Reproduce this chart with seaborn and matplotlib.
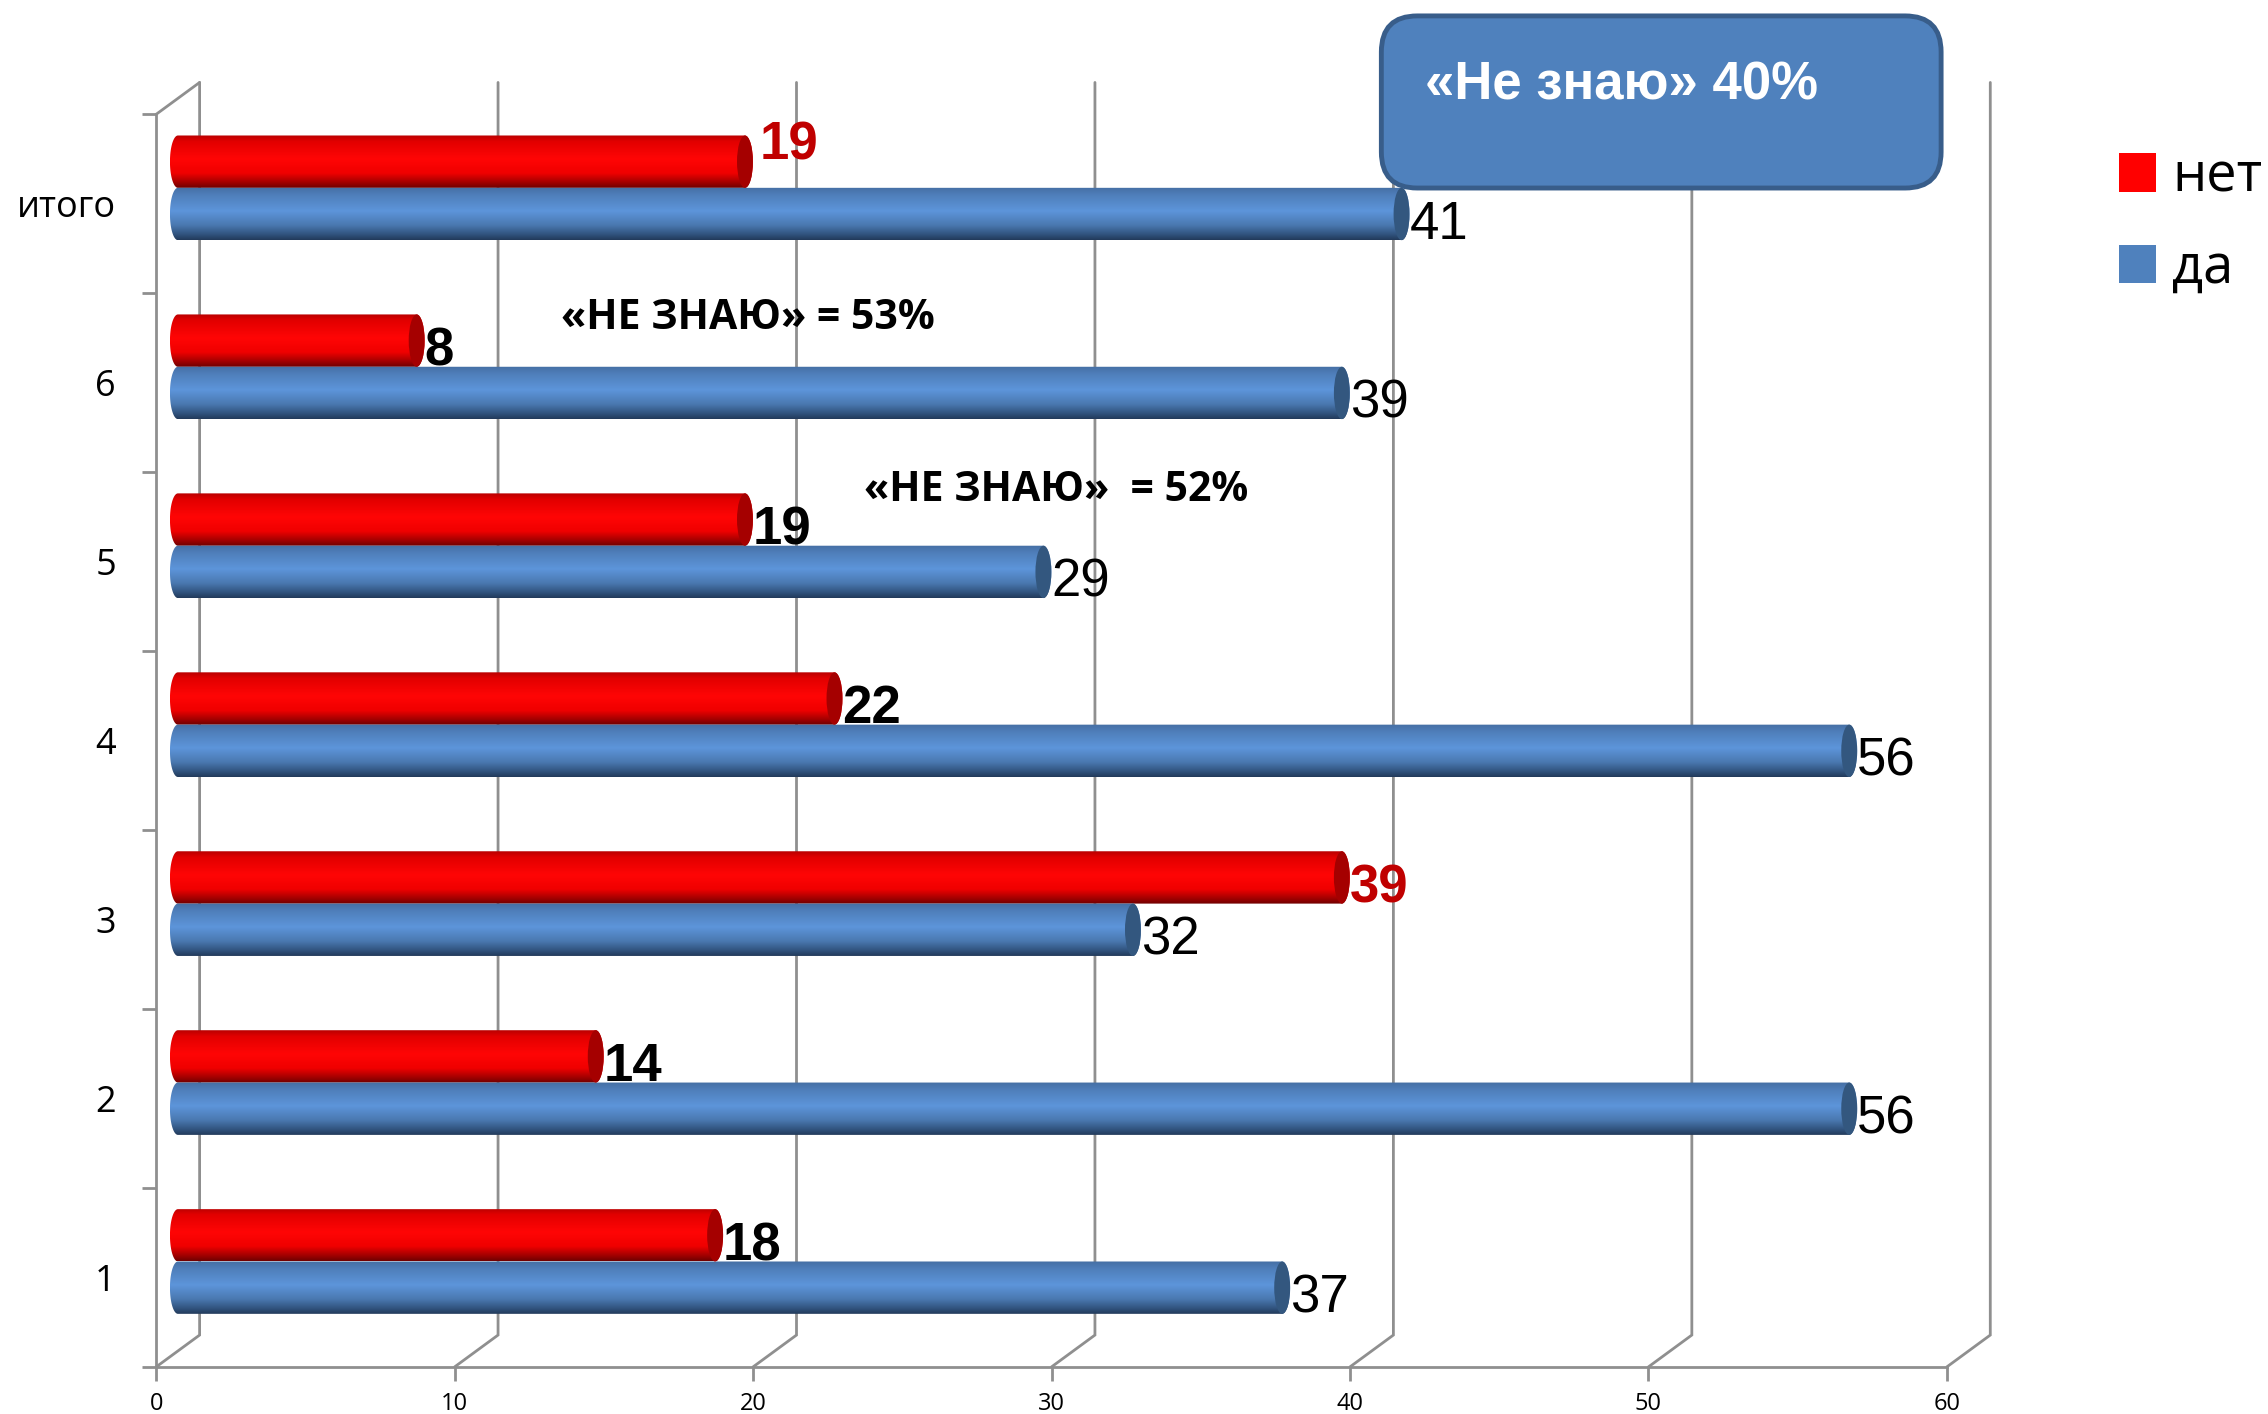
import numpy as np
import pandas as pd
import matplotlib
matplotlib.use("Agg")
import matplotlib.pyplot as plt
import seaborn as sns
from matplotlib.colors import LinearSegmentedColormap
from matplotlib.patches import Ellipse, FancyBboxPatch, PathPatch, Patch
from matplotlib.path import Path
from matplotlib.transforms import IdentityTransform

# data
categories = ["итого", "6", "5", "4", "3", "2", "1"]
net_values = [19, 8, 19, 22, 39, 14, 18]
da_values = [41, 39, 29, 56, 32, 56, 37]
x_ticks = [0, 10, 20, 30, 40, 50, 60]
series_names = ["нет", "да"]

W, H = 2268, 1414
SCALE = W / 1568  # my measurements were taken on the 1568 wide view
UNIT = 1238 / 60  # view pixels per value unit


def fx(x):
    return x * SCALE / W


def fy(y):
    return 1 - y * SCALE / H


df = pd.DataFrame({
    "cat": categories * 2,
    "value": net_values + da_values,
    "series": [series_names[0]] * 7 + [series_names[1]] * 7,
})

sns.set_style("white")
plt.rcParams["font.family"] = ["Open Sans", "DejaVu Sans"]
plt.rcParams["text.color"] = "black"
plt.rcParams["xtick.color"] = "black"
plt.rcParams["ytick.color"] = "black"

fig = plt.figure(figsize=(W / 100, H / 100), dpi=100)

# front plane: axis lines, ticks and labels
GRAY = "#8f8f8f"
front = fig.add_axes([fx(108), fy(945), fx(1346) - fx(108), fy(79) - fy(945)])
front.set_xlim(0, 60)
front.set_ylim(0, 7)
front.patch.set_alpha(0)
for side in ["top", "right"]:
    front.spines[side].set_visible(False)
for side in ["left", "bottom"]:
    front.spines[side].set_color(GRAY)
    front.spines[side].set_linewidth(2)
front.set_xticks(x_ticks)
front.set_yticks(range(8))
front.set_yticklabels([])
front.set_yticks(np.arange(7) + 0.5, categories[::-1], minor=True)
front.tick_params(axis="x", which="major", length=10, width=2, color=GRAY,
                  labelsize=17, pad=8, bottom=True)
front.tick_params(axis="y", which="major", length=10, width=2, color=GRAY, left=True)
front.tick_params(axis="y", which="minor", length=0, labelsize=26, pad=29)

# depth of the box, in axis units
dx = 30 / UNIT
dy = 22 / (866 / 7)
for v in x_ticks:
    front.plot([v, v + dx, v + dx], [0, dy, 7 + dy], color=GRAY, lw=2,
               clip_on=False, solid_joinstyle="miter")
front.plot([0, dx], [7, 7 + dy], color=GRAY, lw=2, clip_on=False)

# bars sit halfway through the depth, one extra unit on the left for the round end
XMIN = -1
ax = fig.add_axes([fx(123 + XMIN * UNIT), fy(934), fx(1361) - fx(123 + XMIN * UNIT),
                   fy(68) - fy(934)], zorder=2)
sns.barplot(data=df, y="cat", x="value", hue="series", order=categories,
            hue_order=series_names, palette=["#ff0000", "#4f81bd"],
            width=0.585, dodge=True, legend=False, ax=ax)
ylim = ax.get_ylim()
ax.axis("off")

ramps = {
    0: LinearSegmentedColormap.from_list(
        "red", [(0, "#b80000"), (0.12, "#e20000"), (0.45, "#ff0505"),
                (0.72, "#f00000"), (0.9, "#a00000"), (1, "#6e0000")]),
    1: LinearSegmentedColormap.from_list(
        "blue", [(0, "#456fa3"), (0.15, "#4f7fbb"), (0.45, "#5d95da"),
                 (0.72, "#4a78b0"), (0.9, "#30527c"), (1, "#223a5a")]),
}
cap_colors = {0: "#a50000", 1: "#33577f"}
r = 5.5 / UNIT
grad = np.linspace(0, 1, 256).reshape(-1, 1)
t = np.linspace(-np.pi / 2, np.pi / 2, 40)

# shade the seaborn bars like cylinders
for s, container in enumerate(ax.containers):
    for bar in container:
        x0, y0 = bar.get_x(), bar.get_y()
        w, h = bar.get_width(), bar.get_height()
        ym = y0 + h / 2
        right = np.column_stack([x0 + w + r * np.cos(t), ym + h / 2 * np.sin(t)])
        left = np.column_stack([x0 - r * np.cos(t[::-1]), ym + h / 2 * np.sin(t[::-1])])
        outline = np.vstack([right, left, right[:1]])
        shape = PathPatch(Path(outline), transform=ax.transData, fc="none", ec="none")
        ax.add_patch(shape)
        bar.set_visible(False)
        im = ax.imshow(grad, cmap=ramps[s], aspect="auto", zorder=3,
                       extent=[x0 - r, x0 + w + r, y0 + h, y0],
                       interpolation="bilinear")
        im.set_clip_path(shape)
        ax.add_patch(Ellipse((x0 + w, ym), 2 * r, h, fc=cap_colors[s], ec="none", zorder=4))
ax.set_xlim(XMIN, 60)
ax.set_ylim(ylim)

# value labels
for i, (bar, v) in enumerate(zip(ax.containers[0], net_values)):
    color = "#c00000" if i in (0, 4) else "black"
    lift = 11 if i == 0 else -7.5
    x_off = 5 if i == 0 else 0
    ax.annotate(str(v), (v + r, bar.get_y() + bar.get_height() / 2),
                xytext=(x_off, lift * SCALE * 0.72), textcoords="offset points",
                family=["Liberation Sans"], fontweight="bold", fontsize=38, color=color,
                va="center", ha="left", zorder=5, annotation_clip=False)
for bar, v in zip(ax.containers[1], da_values):
    ax.annotate(str(v), (v + r, bar.get_y() + bar.get_height() / 2),
                xytext=(0, -7.5 * SCALE * 0.72), textcoords="offset points",
                family=["Liberation Sans"], fontsize=38, color="black",
                va="center", ha="left", zorder=5, annotation_clip=False)

# notes
fig.text(fx(388), fy(220), "«НЕ ЗНАЮ» = 53%", fontweight="bold", fontsize=29.5,
         va="center", ha="left", zorder=6)
fig.text(fx(597), fy(339), "«НЕ ЗНАЮ»  = 52%", fontweight="bold", fontsize=29.5,
         va="center", ha="left", zorder=6)

box = FancyBboxPatch((955 * SCALE + 30, H - 130 * SCALE + 30),
                     387 * SCALE - 60, 119 * SCALE - 60,
                     boxstyle="round,pad=30,rounding_size=36", fc="#4f81bd", ec="#385d8a",
                     lw=3.5, transform=IdentityTransform(), zorder=6)
fig.add_artist(box)
fig.text(fx(985), fy(59), "«Не знаю» 40%", family=["Liberation Sans"], fontweight="bold",
         fontsize=38, color="white", va="center", ha="left", zorder=7)

# legend
handles = [Patch(fc="#ff0000", ec="none", label=series_names[0]),
           Patch(fc="#4f81bd", ec="none", label=series_names[1])]
fig.legend(handles=handles, loc="upper left", bbox_to_anchor=(fx(1454), fy(92)),
           frameon=False, fontsize=39, handlelength=0.68, handleheight=0.71,
           handletextpad=0.3, labelspacing=0.68, borderpad=0.3, borderaxespad=0)

fig.savefig("out.png", dpi=100)
